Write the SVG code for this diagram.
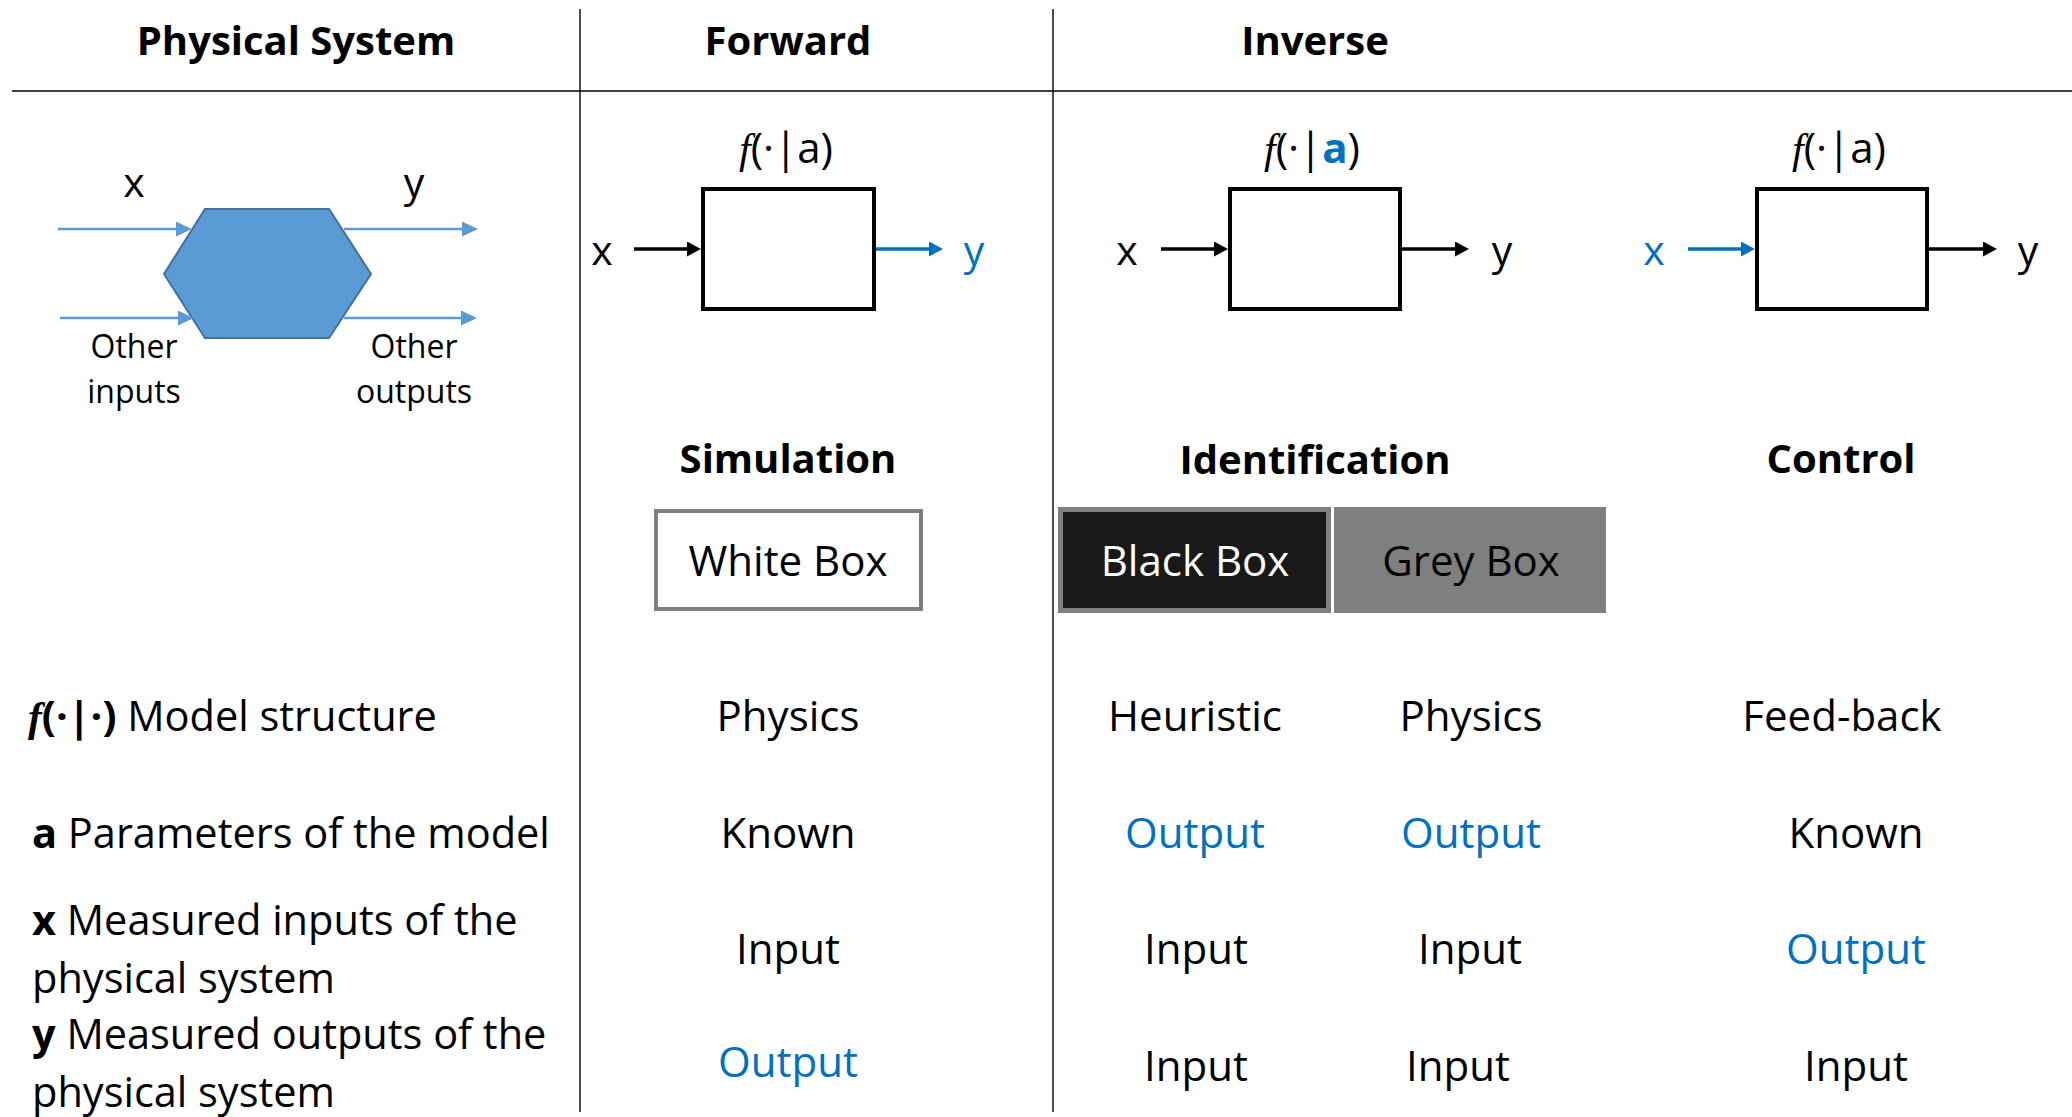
<svg xmlns="http://www.w3.org/2000/svg" width="2072" height="1117" viewBox="0 0 2072 1117">
<style>
text{font-family:"Open Sans","Liberation Sans",sans-serif;fill:#000}
.h{font-size:40px;font-weight:bold;text-anchor:middle}
.t{font-size:42px;text-anchor:middle}
.l{font-size:41.5px}
.xy{font-size:41px;text-anchor:middle}
.sm{font-size:32px;text-anchor:middle}
.blue{fill:#0070C0}
.fi{font-family:"Liberation Serif",serif;font-style:italic}
.div{stroke:#000;stroke-width:1.4;fill:none}
.box{fill:#fff;stroke:#000;stroke-width:4}
.ak{stroke:#000;stroke-width:3.5;fill:none}
.ab{stroke:#0070C0;stroke-width:3.5;fill:none}
.ah{stroke:#5B9BD5;stroke-width:2.5;fill:none}
</style>
<defs>
<marker id="mk" markerUnits="userSpaceOnUse" viewBox="0 0 14 15" markerWidth="14" markerHeight="15" refX="4" refY="7.5" orient="auto"><path d="M0,0L14,7.5L0,15z" fill="#000"/></marker>
<marker id="mb" markerUnits="userSpaceOnUse" viewBox="0 0 14 15" markerWidth="14" markerHeight="15" refX="4" refY="7.5" orient="auto"><path d="M0,0L14,7.5L0,15z" fill="#0070C0"/></marker>
<marker id="mh" markerUnits="userSpaceOnUse" viewBox="0 0 16 15" markerWidth="16" markerHeight="15" refX="4" refY="7.5" orient="auto"><path d="M0,0L16,7.5L0,15z" fill="#5B9BD5"/></marker>
</defs>

<g id="grid">
<line class="div" x1="12" y1="91" x2="2072" y2="91"/>
<line class="div" x1="580" y1="9" x2="580" y2="1112"/>
<line class="div" x1="1053" y1="9" x2="1053" y2="1112"/>
</g>

<g id="headers">
<text class="h" x="296" y="55">Physical System</text>
<text class="h" x="788" y="55">Forward</text>
<text class="h" x="1315" y="55">Inverse</text>
</g>

<g id="physical-system">
<polygon points="205,209 329,209 371,274 329,338 205,338 164,274" fill="#5B9BD5" stroke="#41719C" stroke-width="2"/>
<text class="xy" x="134" y="197">x</text>
<text class="xy" x="414" y="197">y</text>
<text class="sm" x="134" y="358">Other</text>
<text class="sm" x="134" y="403">inputs</text>
<text class="sm" x="414" y="358">Other</text>
<text class="sm" x="414" y="403">outputs</text>
</g>

<g id="forward-model">
<text class="t" x="786" y="163"><tspan class="fi">f</tspan>(·|a)</text>
<rect class="box" x="703" y="189" width="171" height="120"/>
<text class="xy" x="602" y="265">x</text>
<text class="xy blue" x="974" y="265">y</text>
</g>

<g id="identification-model">
<text class="t" x="1312" y="163"><tspan class="fi">f</tspan>(·|<tspan class="blue" font-weight="bold">a</tspan>)</text>
<rect class="box" x="1230" y="189" width="170" height="120" stroke="#0070C0"/>
<text class="xy" x="1127" y="265">x</text>
<text class="xy" x="1502" y="265">y</text>
</g>

<g id="control-model">
<text class="t" x="1839" y="163"><tspan class="fi">f</tspan>(·|a)</text>
<rect class="box" x="1757" y="189" width="170" height="120"/>
<text class="xy blue" x="1654" y="265">x</text>
<text class="xy" x="2028" y="265">y</text>
</g>

<g id="connectors">
<line class="ah" x1="58" y1="229" x2="180" y2="229" marker-end="url(#mh)"/>
<line class="ah" x1="60" y1="318" x2="182" y2="318" marker-end="url(#mh)"/>
<line class="ah" x1="344" y1="229" x2="466" y2="229" marker-end="url(#mh)"/>
<line class="ah" x1="344" y1="318" x2="465" y2="318" marker-end="url(#mh)"/>
<line class="ak" x1="634" y1="249" x2="691" y2="249" marker-end="url(#mk)"/>
<line class="ab" x1="876" y1="249" x2="933" y2="249" marker-end="url(#mb)"/>
<line class="ak" x1="1161" y1="249" x2="1218" y2="249" marker-end="url(#mk)"/>
<line class="ak" x1="1402" y1="249" x2="1459" y2="249" marker-end="url(#mk)"/>
<line class="ab" x1="1688" y1="249" x2="1745" y2="249" marker-end="url(#mb)"/>
<line class="ak" x1="1929" y1="249" x2="1987" y2="249" marker-end="url(#mk)"/>
</g>

<g id="sections">
<text class="h" x="788" y="473">Simulation</text>
<text class="h" x="1315" y="474">Identification</text>
<text class="h" x="1841" y="473">Control</text>
</g>

<g id="white-box">
<rect x="656" y="511" width="265" height="98" fill="#fff" stroke="#7F7F7F" stroke-width="4"/>
<text class="t" x="788" y="576">White Box</text>
</g>
<g id="black-box">
<rect x="1060.5" y="509.5" width="268" height="101" fill="#191919" stroke="#7F7F7F" stroke-width="5"/>
<text class="t" x="1195" y="576" style="fill:#fff">Black Box</text>
</g>
<g id="grey-box">
<rect x="1334" y="507" width="272" height="106" fill="#7F7F7F"/>
<text class="t" x="1471" y="576">Grey Box</text>
</g>

<g id="legend">
<text class="l" x="28" y="731"><tspan font-weight="bold"><tspan class="fi">f</tspan>(·|·)</tspan> Model structure</text>
<text class="l" x="32" y="848"><tspan font-weight="bold">a</tspan> Parameters of the model</text>
<text class="l" x="32" y="935"><tspan font-weight="bold">x</tspan> Measured inputs of the</text>
<text class="l" x="32" y="993">physical system</text>
<text class="l" x="32" y="1049"><tspan font-weight="bold">y</tspan> Measured outputs of the</text>
<text class="l" x="32" y="1107">physical system</text>
</g>

<g id="forward-values">
<text class="t" x="788" y="731">Physics</text>
<text class="t" x="788" y="848">Known</text>
<text class="t" x="788" y="964">Input</text>
<text class="t blue" x="788" y="1077">Output</text>
</g>
<g id="black-box-values">
<text class="t" x="1195" y="731">Heuristic</text>
<text class="t blue" x="1195" y="848">Output</text>
<text class="t" x="1196" y="964">Input</text>
<text class="t" x="1196" y="1081">Input</text>
</g>
<g id="grey-box-values">
<text class="t" x="1471" y="731">Physics</text>
<text class="t blue" x="1471" y="848">Output</text>
<text class="t" x="1470" y="964">Input</text>
<text class="t" x="1458" y="1081">Input</text>
</g>
<g id="control-values">
<text class="t" x="1842" y="731">Feed-back</text>
<text class="t" x="1856" y="848">Known</text>
<text class="t blue" x="1856" y="964">Output</text>
<text class="t" x="1856" y="1081">Input</text>
</g>
</svg>
